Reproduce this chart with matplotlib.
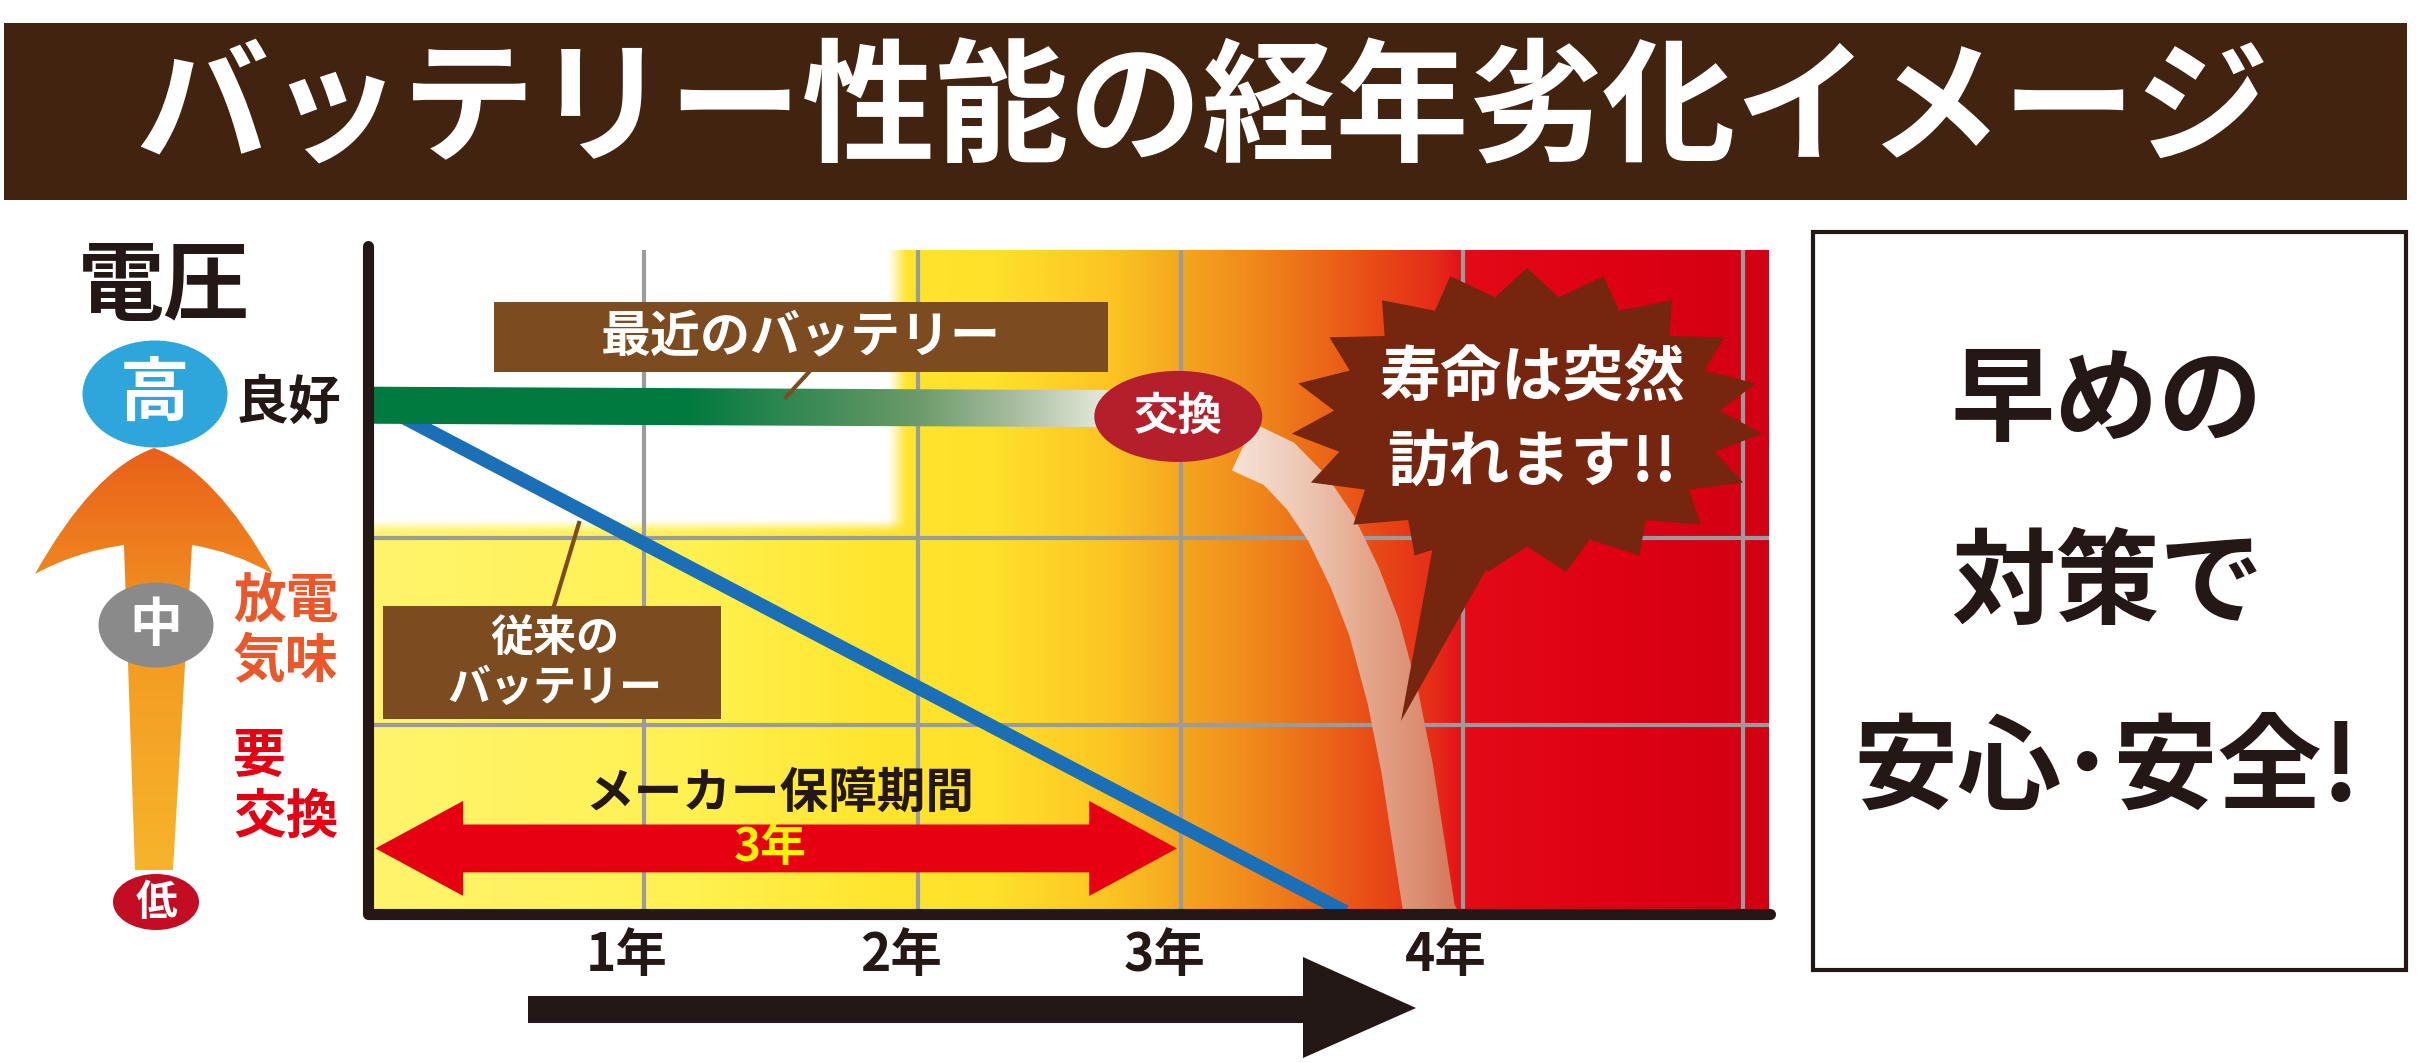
import numpy as np
import matplotlib
matplotlib.use("Agg")
import matplotlib.pyplot as plt
from matplotlib.patches import Rectangle, Ellipse, Polygon, PathPatch
from matplotlib.path import Path
from matplotlib.colors import to_rgb
from matplotlib.transforms import ScaledTranslation

plt.rcParams['font.family'] = ['Noto Sans CJK JP', 'DejaVu Sans']

# ---- data (years on x, voltage level on y) ----
grid_years = [1.0, 2.0, 2.96, 3.99, 5.01]
year_labels = ['1年', '2年', '3年', '4年', '']
grid_levels = [1, 2]

recent_x = [0.0, 2.95]          # 最近のバッテリー
recent_y = [2.71, 2.69]

old_x = [0.0, 3.56]             # 従来のバッテリー
old_y = [2.74, 0.0]

drop_x = [3.186, 3.318, 3.420, 3.507, 3.595, 3.664, 3.734, 3.785, 3.825, 3.865, 3.87]
drop_y = [2.487, 2.396, 2.241, 2.053, 1.786, 1.524, 1.144, 0.770, 0.390, 0.016, 0.0]

warranty = [0.02, 2.945]        # メーカー保障期間 3年
warranty_level = 0.34

XMAX, YMAX = 5.106, 3.54

W, H = 2421, 1063
fig = plt.figure(figsize=(W / 100, H / 100), dpi=100)
fig.patch.set_facecolor('white')

def ramp(xv, sx, sc):
    cc = np.array([to_rgb(c) for c in sc])
    return np.stack([np.interp(xv, sx, cc[:, k]) for k in range(3)], axis=-1)

# chart axes
ax = fig.add_axes([370 / W, (H - 912) / H, (1769 - 370) / W, (912 - 250) / H])
ax.set_zorder(1)
ax.set_xlim(0, XMAX)
ax.set_ylim(0, YMAX)
for s in ax.spines.values():
    s.set_visible(False)

# background gradient
xs = np.linspace(0, XMAX, 1400)
ys = np.linspace(0, YMAX, 662)
row = ramp(xs, [0, 1.2, 1.86, 2.28, 2.70, 2.95, 3.22, 3.50, 3.66, 3.90, 4.00, 4.58, 5.11],
           ['#fff46e', '#fff150', '#ffe52e', '#ffe02a', '#fcc523', '#f5a81f', '#f08a1b',
            '#eb6418', '#e84c16', '#e52a19', '#e40a17', '#de0013', '#d20014'])
def smooth(t):
    t = np.clip(t, 0, 1)
    return t * t * (3 - 2 * t)
wx = smooth((1.97 - xs) / 0.09)
wy = smooth((ys - 2.02) / 0.09)
mask = (wy[:, None] * wx[None, :])[..., None]
bg = row[None, :, :] * (1 - mask) + mask
ax.imshow(bg, extent=[0, XMAX, 0, YMAX], origin='lower', aspect='auto', zorder=0)

ax.set_xticks(grid_years)
ax.set_xticklabels(year_labels, fontsize=37, fontweight='bold', color='#231815')
ax.set_yticks(grid_levels)
ax.tick_params(axis='x', length=0, pad=12)
ax.tick_params(axis='y', length=0, labelleft=False)
for lab in ax.get_xticklabels():
    lab.set_transform(lab.get_transform() + ScaledTranslation(-0.17, 0, fig.dpi_scale_trans))
ax.set_axisbelow(True)
ax.grid(True, color='#9b9b9b', linewidth=3)

# conventional battery
ax.plot(old_x, old_y, color='#1b6fb7', linewidth=10, solid_capstyle='butt', zorder=3)

# recent battery: gradient band
half = 0.099
band = Polygon([(recent_x[0], recent_y[0] + half), (recent_x[1], recent_y[1] + half),
                (recent_x[1], recent_y[1] - half), (recent_x[0], recent_y[0] - half)],
               closed=True, facecolor='none', edgecolor='none')
ax.add_patch(band)
gx = np.linspace(0, recent_x[1], 600)
grow = ramp(gx, [0, 1.15, 1.6, 2.0, 2.35, 2.65, 2.95],
            ['#007a3e', '#007a3e', '#3a8a55', '#6c9a6a', '#a7bd9e', '#dfe5d6', '#eef0e8'])
gim = ax.imshow(grow[None, :, :], extent=[0, recent_x[1], 2.4, 3.0], aspect='auto', zorder=4)
gim.set_clip_path(band)

# sudden drop curve: stroke outline in display space, filled with gradient
P = ax.transData.transform(np.column_stack([drop_x, drop_y]))
d = np.gradient(P, axis=0)
d /= np.linalg.norm(d, axis=1)[:, None]
nrm = np.column_stack([-d[:, 1], d[:, 0]])
hw = 26
left = P + nrm * hw
right = P - nrm * hw
left[-1] += d[-1] * hw
right[-1] += d[-1] * hw
outline = ax.transData.inverted().transform(np.vstack([left, right[::-1]]))
drop_band = Polygon(outline, closed=True, facecolor='none', edgecolor='none')
ax.add_patch(drop_band)
px = np.linspace(3.0, 4.1, 400)
prow = ramp(px, [3.0, 3.15, 3.46, 3.64, 3.82, 3.94, 4.1],
            ['#f8e8df', '#f6e2d6', '#ebc1ab', '#e4a68b', '#dc8f73', '#d67b5d', '#d2735a'])
pim = ax.imshow(prow[None, :, :], extent=[3.0, 4.1, -0.2, 2.8], aspect='auto', zorder=4)
pim.set_clip_path(drop_band)

# 交換 marker
ax.add_patch(Ellipse((recent_x[1], 2.65), 0.613, 0.487, facecolor='#b41f2b',
                     edgecolor='none', zorder=6))
ax.text(recent_x[1], 2.65, '交換', fontsize=32, fontweight='bold', color='white',
        ha='center', va='center', zorder=7)

# warranty arrow
hl, sh, hh = 0.32, 0.128, 0.254
wa, wb = warranty
ax.add_patch(Polygon([(wa, warranty_level), (wa + hl, warranty_level + hh),
                      (wa + hl, warranty_level + sh), (wb - hl, warranty_level + sh),
                      (wb - hl, warranty_level + hh), (wb, warranty_level),
                      (wb - hl, warranty_level - hh), (wb - hl, warranty_level - sh),
                      (wa + hl, warranty_level - sh), (wa + hl, warranty_level - hh)],
                     closed=True, facecolor='#e60012', edgecolor='none', zorder=5))
ax.text((wa + wb) / 2 - 0.02, warranty_level, '3年', fontsize=33, fontweight='bold',
        color='#fff100', ha='center', va='center', zorder=6)

# ---- overlay in pixel coordinates ----
ov = fig.add_axes([0, 0, 1, 1])
ov.set_zorder(2)
ov.axis('off')

dark = '#231815'
brown = '#7d4b20'

# title bar
ov.add_patch(Rectangle((4, 23), 2403, 177, facecolor='#42230f', edgecolor='none'))
ov.text(1202, 112, 'バッテリー性能の経年劣化イメージ', fontsize=96, fontweight='bold',
        color='white', ha='center', va='center')

# chart axis lines
ov.plot([368, 368, 1770], [246, 914, 914], color=dark, linewidth=8,
        solid_capstyle='round', solid_joinstyle='round')

# labels with leaders
ov.add_patch(Rectangle((494, 302), 614, 70, facecolor=brown, edgecolor='none'))
ov.text(801, 338, '最近のバッテリー', fontsize=36, fontweight='bold', color='white',
        ha='center', va='center')
ov.plot([809, 786], [372, 397], color=brown, linewidth=3)

ov.add_patch(Rectangle((383, 606), 338, 113, facecolor=brown, edgecolor='none'))
ov.text(555, 638, '従来の', fontsize=31, fontweight='bold', color='white',
        ha='center', va='center')
ov.text(555, 688, 'バッテリー', fontsize=31, fontweight='bold', color='white',
        ha='center', va='center')
ov.plot([579, 554], [523, 606], color=brown, linewidth=3)

ov.text(780, 793, 'メーカー保障期間', fontsize=35, fontweight='bold', color=dark,
        ha='center', va='center')

# starburst
n = 19
ang = np.linspace(0, 2 * np.pi, 2 * n, endpoint=False) - np.pi / 2
rad = np.where(np.arange(2 * n) % 2 == 0, 1.0, 0.82)
star = np.column_stack([1527 + 236 * rad * np.cos(ang), 421 + 153 * rad * np.sin(ang)])
ov.add_patch(Polygon(star, closed=True, facecolor='#76250f', edgecolor='none'))
ov.add_patch(Polygon([(1436, 530), (1500, 545), (1401, 721)], closed=True,
                     facecolor='#76250f', edgecolor='none'))
ov.text(1532, 378, '寿命は突然', fontsize=44, fontweight='bold', color='white',
        ha='center', va='center')
ov.text(1532, 463, '訪れます!!', fontsize=44, fontweight='bold', color='white',
        ha='center', va='center')

# time arrow
ov.add_patch(Polygon([(528, 996), (1303, 996), (1303, 957), (1416, 1008), (1303, 1058),
                      (1303, 1023), (528, 1023)], closed=True, facecolor=dark,
                     edgecolor='none'))

# right message box
ov.add_patch(Rectangle((1813, 232), 593, 738, facecolor='white', edgecolor=dark, linewidth=3))
for txt, yy in [('早めの', 402), ('対策で', 585), ('安心･安全!', 770)]:
    ov.text(2107, yy, txt, fontsize=75, fontweight='bold', color=dark,
            ha='center', va='center')

# voltage scale on the left
ov.text(164, 288, '電圧', fontsize=62, fontweight='bold', color=dark,
        ha='center', va='center')
verts = [(154, 448), (215, 470), (273, 574), (235, 552), (192, 545), (173, 870),
         (135, 870), (124, 545), (75, 552), (35, 574), (93, 470), (154, 448), (154, 448)]
codes = [Path.MOVETO, Path.CURVE3, Path.CURVE3, Path.CURVE3, Path.CURVE3, Path.LINETO,
         Path.LINETO, Path.LINETO, Path.CURVE3, Path.CURVE3, Path.CURVE3, Path.CURVE3,
         Path.CLOSEPOLY]
arrow_patch = PathPatch(Path(verts, codes), facecolor='none', edgecolor='none')
ov.add_patch(arrow_patch)
acol = ramp(np.linspace(0, 1, 300), [0, 0.45, 1], ['#e95f1a', '#f39a22', '#f7b52b'])
aim = ov.imshow(acol[:, None, :], extent=[30, 280, 875, 445], aspect='auto', zorder=1)
aim.set_clip_path(arrow_patch)
ov.set_xlim(0, W)
ov.set_ylim(H, 0)

ov.add_patch(Ellipse((155, 394), 145, 107, facecolor='#2ea5db', edgecolor='none', zorder=3))
ov.text(155, 396, '高', fontsize=50, fontweight='bold', color='white', ha='center', va='center', zorder=4)
ov.text(288, 403, '良好', fontsize=38, fontweight='bold', color=dark, ha='center', va='center')

ov.add_patch(Ellipse((156, 625), 115, 85, facecolor='#8a8a8a', edgecolor='none', zorder=3))
ov.text(156, 626, '中', fontsize=38, fontweight='bold', color='white', ha='center', va='center', zorder=4)
ov.text(233, 602, '放電', fontsize=38, fontweight='bold', color='#e9572b', ha='left', va='center')
ov.text(233, 662, '気味', fontsize=38, fontweight='bold', color='#e9572b', ha='left', va='center')
ov.text(233, 756, '要', fontsize=38, fontweight='bold', color='#e50012', ha='left', va='center')
ov.text(233, 817, '交換', fontsize=38, fontweight='bold', color='#e50012', ha='left', va='center')

ov.add_patch(Ellipse((156, 902), 86, 56, facecolor='#c30d23', edgecolor='none', zorder=3))
ov.text(156, 903, '低', fontsize=30, fontweight='bold', color='white', ha='center', va='center', zorder=4)

fig.savefig('out.png', dpi=100)
